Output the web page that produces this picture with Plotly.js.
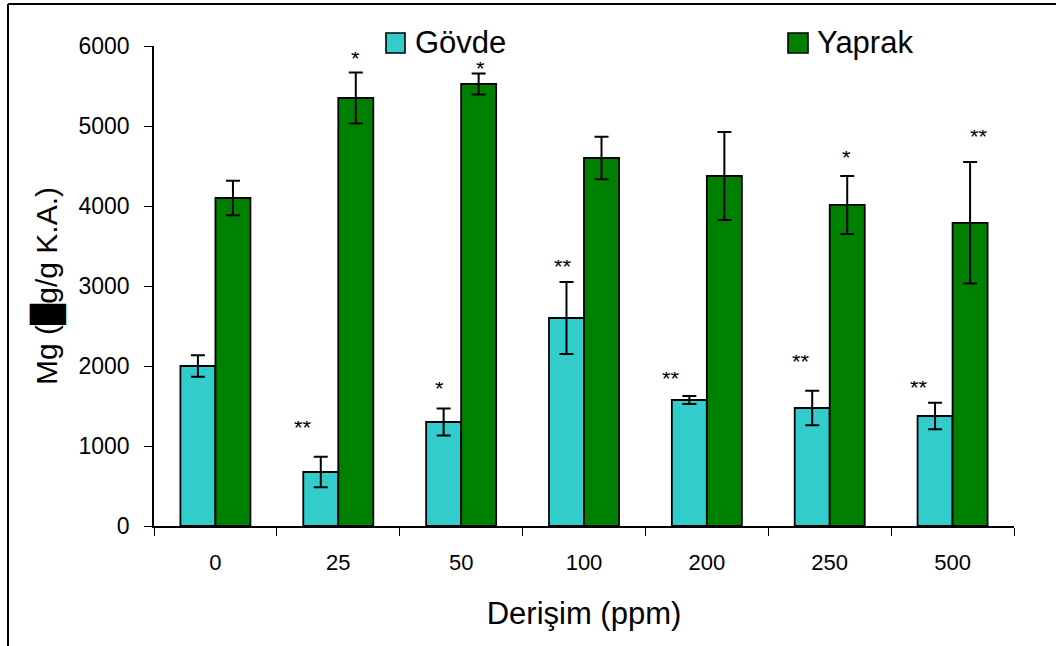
<!DOCTYPE html>
<html>
<head>
<meta charset="utf-8">
<script src="https://cdn.plot.ly/plotly-3.0.1.min.js"></script>
<style>html,body{margin:0;padding:0;background:#fff;}#chart{width:1056px;height:646px;}</style>
</head>
<body>
<div id="chart"></div>
<script>
// ---- data ----
const categories = ['0', '25', '50', '100', '200', '250', '500'];
const govde = [2000, 675, 1300, 2600, 1575, 1475, 1375];
const govdeErr = [135, 190, 170, 450, 50, 215, 165];
const yaprak = [4100, 5350, 5525, 4600, 4375, 4013, 3790];
const yaprakErr = [215, 320, 130, 265, 550, 362, 760];
const govdeSig = ['', '**', '*', '**', '**', '**', '**'];
const yaprakSig = ['', '*', '*', '', '', '*', '**'];
const seriesNames = ['Gövde', 'Yaprak'];
const xTitle = 'Derişim (ppm)';
const yTitle = 'Mg (█g/g K.A.)';

// ---- styles ----
const FONT = 'Liberation Sans, Arial, sans-serif';
const colors = ['#33CCCC', '#008000'];
const govdeSigDx = [0, -35, -22, -21, -36, -29, -34];
const govdeSigDy = [0, 30, 20, 16, 18, 30, 16];
const yaprakSigDx = [0, 17, 19, 0, 0, 17, 26];
const yaprakSigDy = [0, 14, 6, 0, 0, 19, 26];

function barTrace(name, y, err, color) {
  return {
    type: 'bar', name: name, x: categories, y: y,
    marker: {color: color, line: {color: '#000', width: 1.8}},
    error_y: {type: 'data', array: err, visible: true, color: '#000', thickness: 2, width: 7},
    hoverinfo: 'x+y'
  };
}

const data = [
  barTrace(seriesNames[0], govde, govdeErr, colors[0]),
  barTrace(seriesNames[1], yaprak, yaprakErr, colors[1])
];

const annotations = [];
function addSig(labels, vals, errs, dx, dy) {
  labels.forEach((t, i) => {
    if (!t) return;
    annotations.push({
      x: i, y: vals[i] + errs[i], xref: 'x', yref: 'y',
      text: t, showarrow: false, xshift: dx[i], yshift: dy[i],
      xanchor: 'center', yanchor: 'middle', height: 12, valign: 'middle',
      font: {family: FONT, size: 22, color: '#000'}
    });
  });
}
addSig(govdeSig, govde, govdeErr, govdeSigDx, govdeSigDy);
addSig(yaprakSig, yaprak, yaprakErr, yaprakSigDx, yaprakSigDy);

// custom legend (large swatches as in the reference)
const L = 154, W = 860, T = 46, H = 480;
const px = v => (v - L) / W;
const py = v => (T + H - v) / H;
const legendItems = [
  {name: seriesNames[0], color: colors[0], x0: 386, x1: 405, tx: 413},
  {name: seriesNames[1], color: colors[1], x0: 788, x1: 808, tx: 815}
];
const shapes = [];
legendItems.forEach(it => {
  shapes.push({type: 'rect', xref: 'paper', yref: 'paper',
    x0: px(it.x0), x1: px(it.x1), y0: py(53), y1: py(33),
    fillcolor: it.color, line: {color: '#000', width: 1.6}});
  annotations.push({xref: 'paper', yref: 'paper', x: px(it.tx), y: py(42),
    xanchor: 'left', yanchor: 'middle', text: it.name, showarrow: false,
    font: {family: FONT, size: 31, color: '#000'}});
});
// outer frame (top and left edges)
shapes.push({type: 'line', xref: 'paper', yref: 'paper', x0: px(8), x1: px(1056), y0: py(4), y1: py(4), line: {color: '#000', width: 2}});
shapes.push({type: 'line', xref: 'paper', yref: 'paper', x0: px(8), x1: px(8), y0: py(4), y1: py(646), line: {color: '#000', width: 2}});

const layout = {
  width: 1056, height: 646,
  margin: {l: L, r: 1056 - L - W, t: T, b: 646 - T - H, pad: 0},
  paper_bgcolor: '#fff', plot_bgcolor: '#fff',
  showlegend: false,
  barmode: 'group', bargap: 0.43, bargroupgap: 0,
  font: {family: FONT, color: '#000'},
  xaxis: {
    type: 'category', range: [-0.5, categories.length - 0.5], autorange: false,
    showline: true, linecolor: '#000', linewidth: 1.5,
    ticks: 'outside', tickson: 'boundaries', ticklen: 8, tickcolor: '#000', tickwidth: 1,
    tickangle: 0,
    tickfont: {family: FONT, size: 22, color: '#000'}, ticklabelstandoff: 16,
    showgrid: false, zeroline: false, automargin: false,
    title: {text: xTitle, font: {family: FONT, size: 31, color: '#000'}, standoff: 28}
  },
  yaxis: {
    range: [0, 6000], autorange: false, dtick: 1000, showline: true, linecolor: '#000', linewidth: 1.5,
    ticks: 'outside', ticklen: 8, tickcolor: '#000', tickwidth: 1,
    tickfont: {family: FONT, size: 23, color: '#000'}, ticklabelstandoff: 10,
    showgrid: false, zeroline: false, automargin: false,
    title: {text: yTitle, font: {family: FONT, size: 30, color: '#000'}, standoff: 12}
  },
  annotations: annotations,
  shapes: shapes
};

Plotly.newPlot('chart', data, layout, {displayModeBar: false});
</script>
</body>
</html>
